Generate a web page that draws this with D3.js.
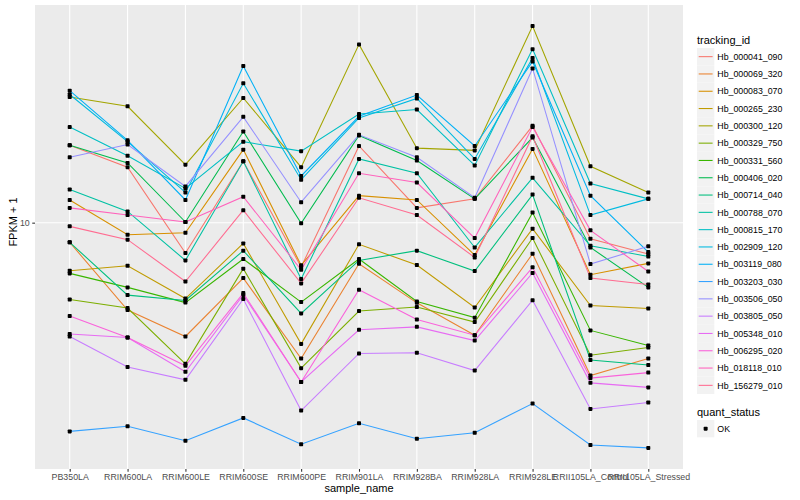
<!DOCTYPE html>
<html>
<head>
<meta charset="utf-8">
<script src="https://cdn.jsdelivr.net/npm/d3@7"></script>
<style>
  body { margin: 0; background: #fff; }
  svg text { font-family: "Liberation Sans", Arial, sans-serif; }
</style>
</head>
<body>
<div id="container"></div>
<script>
const width = 800
const height = 500
const panel = { left: 35, right: 683, top: 5, bottom: 469 }

//-----------------------------DATA-----------------------------//
const samples = ['PB350LA', 'RRIM600LA', 'RRIM600LE', 'RRIM600SE', 'RRIM600PE', 'RRIM901LA',
    'RRIM928BA', 'RRIM928LA', 'RRIM928LE', 'RRII105LA_Control', 'RRII105LA_Stressed']

const trackingIds = ['Hb_000041_090', 'Hb_000069_320', 'Hb_000083_070', 'Hb_000265_230', 'Hb_000300_120',
    'Hb_000329_750', 'Hb_000331_560', 'Hb_000406_020', 'Hb_000714_040', 'Hb_000788_070',
    'Hb_000815_170', 'Hb_002909_120', 'Hb_003119_080', 'Hb_003203_030', 'Hb_003506_050',
    'Hb_003805_050', 'Hb_005348_010', 'Hb_006295_020', 'Hb_018118_010', 'Hb_156279_010']

const colors = ['#F8766D', '#EA8331', '#D89000', '#C09B00', '#A3A500', '#7CAE00', '#39B600', '#00BB4E',
    '#00BF7D', '#00C1A3', '#00BFC4', '#00BAE0', '#00B0F6', '#35A2FF', '#9590FF', '#C77CFF',
    '#E76BF3', '#FA62DB', '#FF62BC', '#FF6C91']

// FPKM + 1, one row per tracking_id, one value per sample
const fpkm = [
    [18.1, 15.3, 7.92, 16.0, 7.12, 18.0, 11.2, 12.0, 21.0, 8.84, 7.86],
    [8.60, 5.12, 4.18, 6.54, 3.53, 7.30, 5.41, 4.22, 7.88, 3.10, 3.53],
    [11.9, 9.12, 9.26, 17.5, 7.21, 12.3, 11.9, 7.80, 17.6, 6.71, 7.32],
    [6.92, 7.19, 5.59, 8.53, 3.95, 8.47, 7.23, 5.22, 9.55, 5.30, 5.18],
    [26.2, 24.4, 15.6, 26.0, 15.3, 39.2, 17.7, 17.4, 45.1, 15.4, 12.6],
    [5.55, 5.20, 3.39, 7.03, 3.28, 5.08, 5.24, 4.67, 8.89, 3.62, 3.84],
    [6.78, 6.09, 5.42, 7.57, 5.44, 7.57, 5.47, 4.83, 10.8, 4.38, 3.90],
    [18.1, 15.8, 10.05, 20.1, 9.95, 19.5, 16.1, 12.0, 19.2, 8.27, 6.09],
    [8.60, 5.74, 5.51, 8.07, 4.99, 7.49, 8.07, 6.90, 12.4, 3.49, 3.36],
    [12.9, 10.9, 7.49, 16.0, 6.49, 16.3, 14.6, 8.27, 14.1, 8.38, 7.72],
    [20.8, 16.7, 13.0, 18.6, 17.3, 23.0, 23.8, 15.5, 37.8, 13.5, 12.0],
    [26.7, 18.6, 12.6, 29.1, 13.9, 22.3, 25.9, 16.3, 35.3, 10.6, 12.0],
    [27.5, 18.8, 11.9, 33.2, 14.3, 22.6, 26.6, 18.0, 34.4, 12.3, 7.98],
    [2.02, 2.10, 1.88, 2.24, 1.83, 2.15, 1.91, 2.00, 2.50, 1.82, 1.78],
    [16.5, 18.2, 13.2, 22.5, 11.7, 19.6, 16.5, 12.1, 32.6, 7.28, 8.34],
    [4.18, 3.31, 3.00, 5.57, 2.37, 3.67, 3.69, 3.22, 5.52, 2.40, 2.52],
    [4.26, 4.15, 3.19, 5.75, 2.95, 4.40, 4.50, 4.05, 6.80, 2.93, 2.83],
    [4.89, 4.15, 3.34, 5.83, 2.95, 5.98, 4.76, 4.22, 7.10, 3.04, 3.17],
    [11.2, 10.6, 10.05, 12.2, 6.97, 14.6, 13.6, 8.89, 20.8, 9.43, 6.88],
    [9.72, 8.78, 6.37, 11.0, 6.28, 12.1, 10.6, 7.66, 19.4, 6.54, 6.23]
]

const yTicks = [10]
const quantStatus = ['OK']

const slices = trackingIds.map((id, i) => {
    return {
        id: id,
        color: colors[i],
        values: samples.map((s, j) => ({ sample: s, value: fpkm[i][j] }))
    }
})

//----------------------------SCALES----------------------------//
const xScale = d3.scalePoint()
    .domain(samples)
    .range([panel.left, panel.right])
    .padding(0.6)

const allValues = fpkm.flat()
const lmin = Math.log10(d3.min(allValues))
const lmax = Math.log10(d3.max(allValues))
const pad = (lmax - lmin) * 0.05
const yScale = d3.scaleLog()
    .domain([Math.pow(10, lmin - pad), Math.pow(10, lmax + pad)])
    .range([panel.bottom, panel.top])

const svg = d3.select('div#container').append('svg')
    .attr('width', width)
    .attr('height', height)

//----------------------------PANEL-----------------------------//
svg.append('rect')
    .attr('x', panel.left)
    .attr('y', panel.top)
    .attr('width', panel.right - panel.left)
    .attr('height', panel.bottom - panel.top)
    .attr('fill', '#EBEBEB')

svg.append('g').selectAll('line')
    .data(samples)
    .enter()
    .append('line')
    .attr('x1', d => xScale(d))
    .attr('x2', d => xScale(d))
    .attr('y1', panel.top)
    .attr('y2', panel.bottom)
    .attr('stroke', '#fff')
    .attr('stroke-width', 1.07)

svg.append('g').selectAll('line')
    .data(yTicks)
    .enter()
    .append('line')
    .attr('x1', panel.left)
    .attr('x2', panel.right)
    .attr('y1', d => yScale(d))
    .attr('y2', d => yScale(d))
    .attr('stroke', '#fff')
    .attr('stroke-width', 1.07)

//-----------------------------AXES-----------------------------//
const xaxis = d3.axisBottom(xScale).tickSize(2.75).tickPadding(2.5)
const yaxis = d3.axisLeft(yScale).tickValues(yTicks).tickFormat(d3.format('d')).tickSize(2.75).tickPadding(2.5)

const gx = svg.append('g')
    .attr('transform', 'translate(0,' + panel.bottom + ')')
    .call(xaxis)
const gy = svg.append('g')
    .attr('transform', 'translate(' + panel.left + ',0)')
    .call(yaxis)

;[gx, gy].forEach(g => {
    g.select('.domain').remove()
    g.selectAll('.tick line').attr('stroke', '#333333').attr('stroke-width', 1.07)
    g.selectAll('.tick text').attr('fill', '#4D4D4D').style('font-size', '8.8px')
})

svg.append('text')
    .attr('x', (panel.left + panel.right) / 2)
    .attr('y', 492)
    .attr('text-anchor', 'middle')
    .style('font-size', '11px')
    .text('sample_name')

// y title sits a bit above the panel middle in the reference
svg.append('text')
    .attr('transform', 'translate(17,222) rotate(-90)')
    .attr('text-anchor', 'middle')
    .style('font-size', '11px')
    .text('FPKM + 1')

//----------------------------LINES-----------------------------//
const line = d3.line()
    .x(d => xScale(d.sample))
    .y(d => yScale(d.value))

svg.append('g').selectAll('path')
    .data(slices)
    .enter()
    .append('path')
    .attr('d', d => line(d.values))
    .attr('fill', 'none')
    .attr('stroke', d => d.color)
    .attr('stroke-width', 1.07)

svg.append('g').selectAll('rect')
    .data(slices.flatMap(s => s.values))
    .enter()
    .append('rect')
    .attr('x', d => xScale(d.sample) - 2)
    .attr('y', d => yScale(d.value) - 2)
    .attr('width', 4)
    .attr('height', 4)
    .attr('rx', 0.8)
    .attr('fill', '#000')

//----------------------------LEGEND----------------------------//
const legend = svg.append('g').attr('transform', 'translate(697,0)')
const keySize = 17.3

legend.append('text')
    .attr('x', 0)
    .attr('y', 44)
    .style('font-size', '11px')
    .text('tracking_id')

const items = legend.selectAll('g.item')
    .data(slices)
    .enter()
    .append('g')
    .attr('class', 'item')
    .attr('transform', (d, i) => 'translate(0,' + (48 + i * keySize) + ')')

items.append('rect')
    .attr('width', keySize)
    .attr('height', keySize)
    .attr('fill', '#F2F2F2')

items.append('line')
    .attr('x1', 1.7)
    .attr('x2', keySize - 1.7)
    .attr('y1', keySize / 2)
    .attr('y2', keySize / 2)
    .attr('stroke', d => d.color)
    .attr('stroke-width', 1.07)

items.append('text')
    .attr('x', keySize + 3)
    .attr('y', keySize / 2 + 3.2)
    .style('font-size', '8.8px')
    .text(d => d.id)

legend.append('text')
    .attr('x', 0)
    .attr('y', 416)
    .style('font-size', '11px')
    .text('quant_status')

const shapeItems = legend.selectAll('g.shape')
    .data(quantStatus)
    .enter()
    .append('g')
    .attr('class', 'shape')
    .attr('transform', (d, i) => 'translate(0,' + (420 + i * keySize) + ')')

shapeItems.append('rect')
    .attr('width', keySize)
    .attr('height', keySize)
    .attr('fill', '#F2F2F2')

shapeItems.append('rect')
    .attr('x', keySize / 2 - 2)
    .attr('y', keySize / 2 - 2)
    .attr('width', 4)
    .attr('height', 4)
    .attr('rx', 0.8)
    .attr('fill', '#000')

shapeItems.append('text')
    .attr('x', keySize + 3)
    .attr('y', keySize / 2 + 3.2)
    .style('font-size', '8.8px')
    .text(d => d)
</script>
</body>
</html>
